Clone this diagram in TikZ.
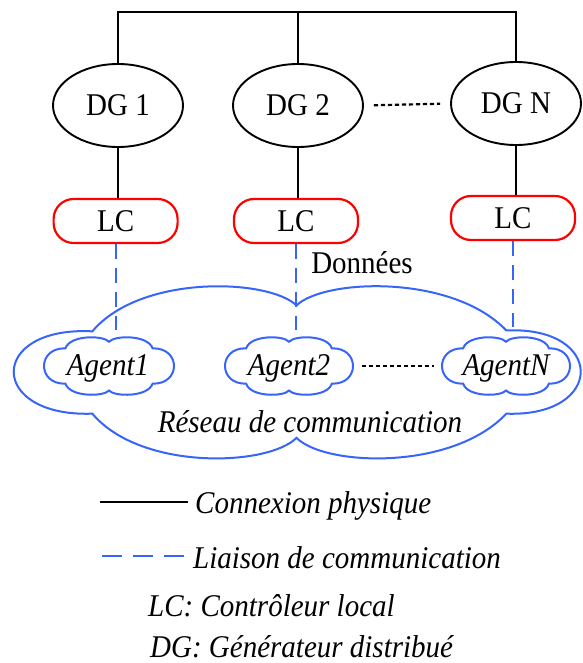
\documentclass[tikz,border=0pt]{standalone}
\usepackage{fontspec}
\setmainfont{Liberation Serif}
\usepackage{graphicx}
\usetikzlibrary{shapes.geometric}
\definecolor{cblue}{RGB}{55,100,250}
\definecolor{cred}{RGB}{255,0,0}
\newcommand\stt[1]{\scalebox{1}[1.09]{#1}}
\tikzset{
  pics/agentcloud/.style={code={
    \draw[cloudline] (0,-0.85) .. controls (0.08,-1.08) and (0.6,-1.1) .. (0.67,-0.62)
      .. controls (1.11,-0.65) and (1.11,0.65) .. (0.67,0.62)
      .. controls (0.6,1.1) and (0.08,1.08) .. (0,0.86)
      .. controls (-0.08,1.08) and (-0.6,1.1) .. (-0.67,0.62)
      .. controls (-1.11,0.65) and (-1.11,-0.65) .. (-0.67,-0.62)
      .. controls (-0.6,-1.1) and (-0.08,-1.08) .. (0,-0.85) -- cycle;
  }}
}
\begin{document}
\begin{tikzpicture}[x=1pt,y=-1pt,
  txt/.style={font=\fontsize{29}{34}\selectfont, inner sep=0pt},
  itx/.style={font=\fontsize{29}{34}\selectfont\itshape, inner sep=0pt},
  dgnode/.style={ellipse, draw=black, line width=1.9pt, minimum width=130pt, minimum height=83pt, inner sep=0pt, font=\fontsize{29}{34}\selectfont},
  lcnode/.style={rectangle, rounded corners=20pt, draw=cred, line width=2.2pt, minimum width=124pt, minimum height=44pt, inner sep=0pt, font=\fontsize{29}{34}\selectfont},
  agnode/.style={itx, minimum width=128pt, minimum height=57pt, text height=24pt, text depth=6pt},
  phys/.style={line width=1.8pt, black},
  comm/.style={line width=2pt, cblue, dash pattern=on 15pt off 9pt},
  dots/.style={line width=2.2pt, black, dash pattern=on 4.2pt off 2.8pt},
  cloudline/.style={line width=2pt, cblue},
]
\useasboundingbox (0,0) rectangle (582,663);

% DG nodes
\node[dgnode] (dg1) at (118,105.5) {\stt{DG 1}};
\node[dgnode] (dg2) at (298,105.5) {\stt{DG 2}};
\node[dgnode] (dgN) at (516,103.5) {\stt{DG N}};

% bus
\coordinate (bus) at (0,12);
\draw[phys] (dg1.north) -- (dg1.north |- bus) -- (dgN.north |- bus) -- (dgN.north);
\draw[phys] (dg2.north) -- (dg2.north |- bus);
\draw[dots, shorten <=10pt, shorten >=10pt] (dg2.east) -- (dgN.west);

% LC nodes
\node[lcnode] (lc1) at (115.6,221) {\stt{LC}};
\node[lcnode] (lc2) at (296,221) {\stt{LC}};
\node[lcnode] (lcN) at (513,218) {\stt{LC}};

\draw[phys] (dg1.south) -- (dg1.south |- lc1.north);
\draw[phys] (dg2.south) -- (dg2.south |- lc2.north);
\draw[phys] (dgN.south) -- (dgN.south |- lcN.north);

% big cloud
\draw[cloudline, shift={(296.5,372.5)}, xscale=283.5, yscale=89.5]
  (0,-0.75) .. controls (0.1,-1.05) and (0.55,-1.1) .. (0.74,-0.47)
  .. controls (1.09,-0.52) and (1.09,0.5) .. (0.74,0.46)
  .. controls (0.55,1.1) and (0.1,1.05) .. (0,0.73)
  .. controls (-0.1,1.05) and (-0.55,1.1) .. (-0.72,0.46)
  .. controls (-1.09,0.5) and (-1.09,-0.52) .. (-0.72,-0.46)
  .. controls (-0.55,-1.1) and (-0.1,-1.05) .. (0,-0.75) -- cycle;

% communication links
\coordinate (c1) at (115.6,330);
\coordinate (c2) at (296,330);
\coordinate (cN) at (513,327);
\draw[comm] (lc1.south) -- (c1);
\draw[comm] (lc2.south) -- (c2);
\draw[comm] (lcN.south) -- (cN);

\node[txt, anchor=base] (don) at (362,273) {\stt{Données}};

% agents
\pic[xscale=65, yscale=28.5] at (109,366) {agentcloud};
\pic[xscale=64, yscale=28.5] at (289,366) {agentcloud};
\pic[xscale=64, yscale=28.5] at (506,366) {agentcloud};
\node[agnode] (ag1) at (108,366) {\stt{Agent1}};
\node[agnode] (ag2) at (289,366) {\stt{Agent2}};
\node[agnode] (agN) at (506,366) {\stt{AgentN}};
\draw[dots, shorten <=9pt, shorten >=8pt] (ag2.east) -- (agN.west);

\node[itx, anchor=base] (res) at (310,432) {\stt{Réseau de communication}};

% legend
\coordinate (l1a) at (100,502);
\coordinate (l1b) at (188,502);
\draw[phys] (l1a) -- (l1b);
\node[itx, anchor=base west] (leg1) at (195,513) {\stt{Connexion physique}};
\coordinate (l2a) at (102,556);
\coordinate (l2b) at (185,556);
\draw[line width=2pt, cblue, dash pattern=on 20pt off 11pt] (l2a) -- (l2b);
\node[itx, anchor=base west] (leg2) at (193,568) {\stt{Liaison de communication}};
\node[itx, anchor=base west] (leg3) at (148,616) {\stt{LC: Contrôleur local}};
\node[itx, anchor=base west] (leg4) at (150,657) {\stt{DG: Générateur distribué}};
\end{tikzpicture}
\end{document}
